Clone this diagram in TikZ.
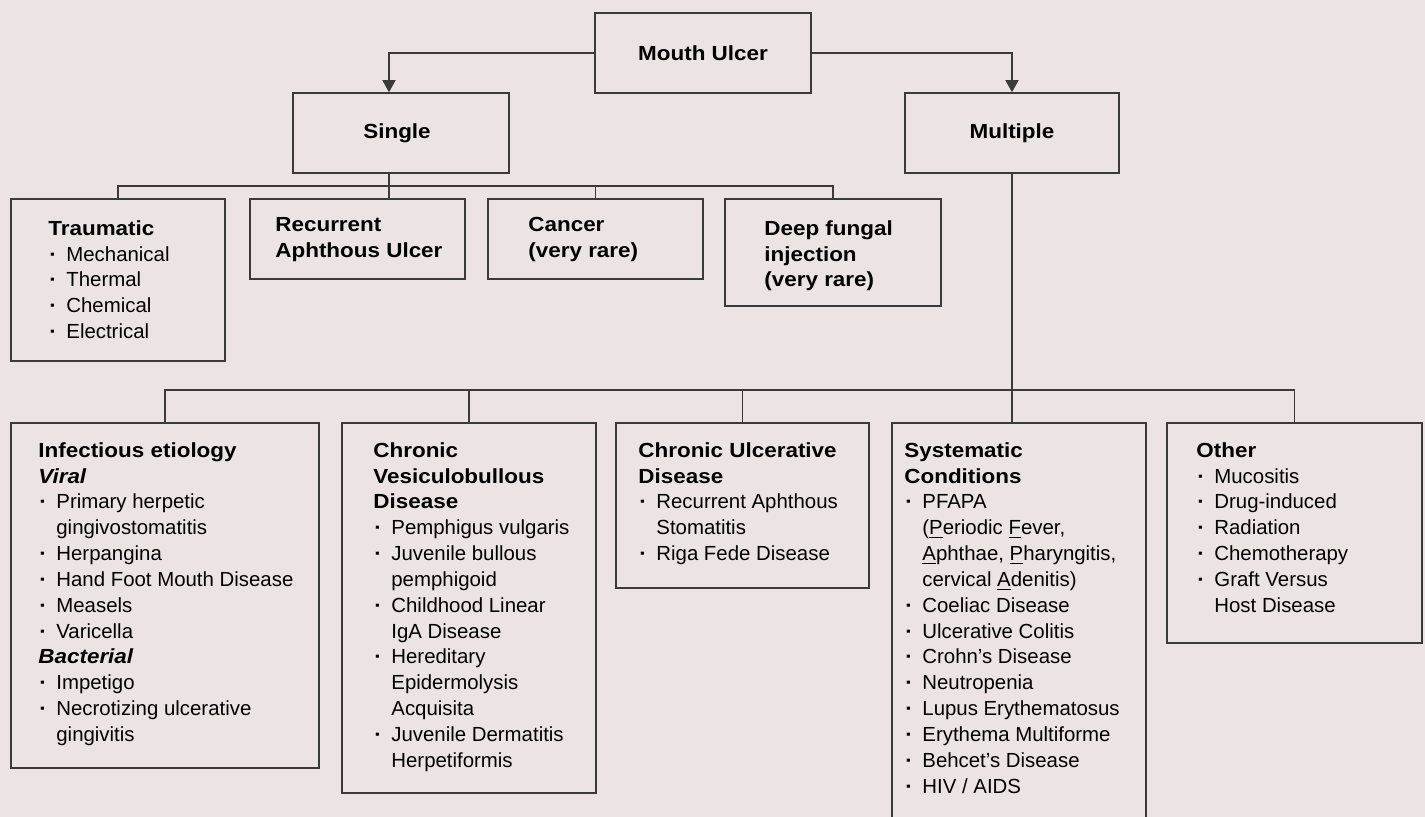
\documentclass[tikz,border=0pt]{standalone}
\usepackage{fontspec}
\setmainfont{Liberation Sans}
\newfontfamily\hdrfont[FakeStretch=1.1,UprightFont={* Bold},ItalicFont={* Bold Italic}]{Liberation Sans}
\usetikzlibrary{positioning,fit,arrows.meta}
\definecolor{ulbg}{HTML}{ECE4E2}
\definecolor{ulline}{HTML}{3A3A3A}
\newcommand{\hdr}{\hdrfont}
\newcommand{\bul}{\makebox[9pt][l]{\hspace{0.5pt}{\hdrfont\textperiodcentered}}}
\newcommand{\indt}{\hspace*{9pt}}

\begin{document}
\begin{tikzpicture}[x=0.5pt,y=-0.5pt,font=\fontsize{10.2}{12.92}\selectfont,
    box/.style={draw=ulline,line width=0.75pt,inner sep=0pt},
    hd/.style={font=\fontsize{10.2}{12.92}\selectfont\hdrfont},
    txt/.style={anchor=north west,align=left,inner sep=0pt},
    link/.style={draw=ulline,line width=0.6pt},
    arr/.style={link,-{Triangle[length=6pt,width=6.5pt]}}]
  \useasboundingbox (0,0) rectangle (1425,817);
  \fill[ulbg] (0,0) rectangle (1425,817);
  \clip (0,0) rectangle (1425,817);

  \node[box,fit={(595,13) (811,93)}] (mu) {};
  \node[hd] (muT) at (mu) {Mouth Ulcer};
  \node[box,fit={(293,93) (509,173)}] (sgl) {};
  \node[hd] (sglT) at ([xshift=-2pt]sgl) {Single};
  \node[box,fit={(905,93) (1119,173)}] (mlt) {};
  \node[hd] (mltT) at (mlt) {Multiple};

  % single
  \node[box,fit={(11,199) (225,361)}] (trau) {};
  \node[txt] (trauT) at (48,220) {{\hdr Traumatic}\\\bul Mechanical\\\bul Thermal\\\bul Chemical\\\bul Electrical};
  \node[box,fit={(250,199) (465,279)}] (rau) {};
  \node[txt,hd] (rauT) at (275,217) {Recurrent\\Aphthous Ulcer};
  \node[box,fit={(488,199) (703,279)}] (canc) {};
  \node[txt,hd] (cancT) at (528,217) {Cancer\\(very rare)};
  \node[box,fit={(725,199) (941,306)}] (fung) {};
  \node[txt,hd] (fungT) at (764,220) {Deep fungal\\injection\\(very rare)};

  % multiple
  \node[box,fit={(11,423) (319,768)}] (inf) {};
  \node[txt] (infT) at (38,442) {{\hdr Infectious etiology}\\{\hdr\itshape Viral}\\\bul Primary herpetic\\\indt gingivostomatitis\\\bul Herpangina\\\bul Hand Foot Mouth Disease\\\bul Measels\\\bul Varicella\\{\hdr\itshape Bacterial}\\\bul Impetigo\\\bul Necrotizing ulcerative\\\indt gingivitis};
  \node[box,fit={(342,423) (596,793)}] (vesic) {};
  \node[txt] (vesicT) at (373,442) {{\hdr Chronic}\\{\hdr Vesiculobullous}\\{\hdr Disease}\\\bul Pemphigus vulgaris\\\bul Juvenile bullous\\\indt pemphigoid\\\bul Childhood Linear\\\indt IgA Disease\\\bul Hereditary\\\indt Epidermolysis\\\indt Acquisita\\\bul Juvenile Dermatitis\\\indt Herpetiformis};
  \node[box,fit={(616,423) (869,588)}] (cud) {};
  \node[txt] (cudT) at (638,442) {{\hdr Chronic Ulcerative}\\{\hdr Disease}\\\bul Recurrent Aphthous\\\indt Stomatitis\\\bul Riga Fede Disease};
  \node[box,fit={(892,423) (1146,840)}] (sysc) {};
  \node[txt] (syscT) at (904,442) {{\hdr Systematic}\\{\hdr Conditions}\\\bul PFAPA\\\indt(\underline{P}eriodic \underline{F}ever,\\\indt\underline{A}phthae, \underline{P}haryngitis,\\\indt cervical \underline{A}denitis)\\\bul Coeliac Disease\\\bul Ulcerative Colitis\\\bul Crohn’s Disease\\\bul Neutropenia\\\bul Lupus Erythematosus\\\bul Erythema Multiforme\\\bul Behcet’s Disease\\\bul HIV / AIDS};
  \node[box,fit={(1167,423) (1422,643)}] (oth) {};
  \node[txt] (othT) at (1196,442) {{\hdr Other}\\\bul Mucositis\\\bul Drug-induced\\\bul Radiation\\\bul Chemotherapy\\\bul Graft Versus\\\indt Host Disease};

  \coordinate (sbus) at (0,186);
  \coordinate (mbus) at (0,390);
  \draw[arr] (mu.west) -| ([xshift=-6pt]sgl.north);
  \draw[arr] (mu.east) -| (mlt.north);
  \draw[link] ([xshift=-6pt]sgl.south) -- ([xshift=-6pt]sgl.south |- rau.north);
  \draw[link] (trau.north) |- (sbus -| fung.north) -- (fung.north);
  \draw[link] (canc.north) -- (canc.north |- sbus);
  \draw[link] (mlt.south) -- (mlt.south |- sysc.north);
  \draw[link] (inf.north) |- (mbus -| oth.north) -- (oth.north);
  \draw[link] (vesic.north) -- (vesic.north |- mbus);
  \draw[link] (cud.north) -- (cud.north |- mbus);
\end{tikzpicture}
\end{document}
